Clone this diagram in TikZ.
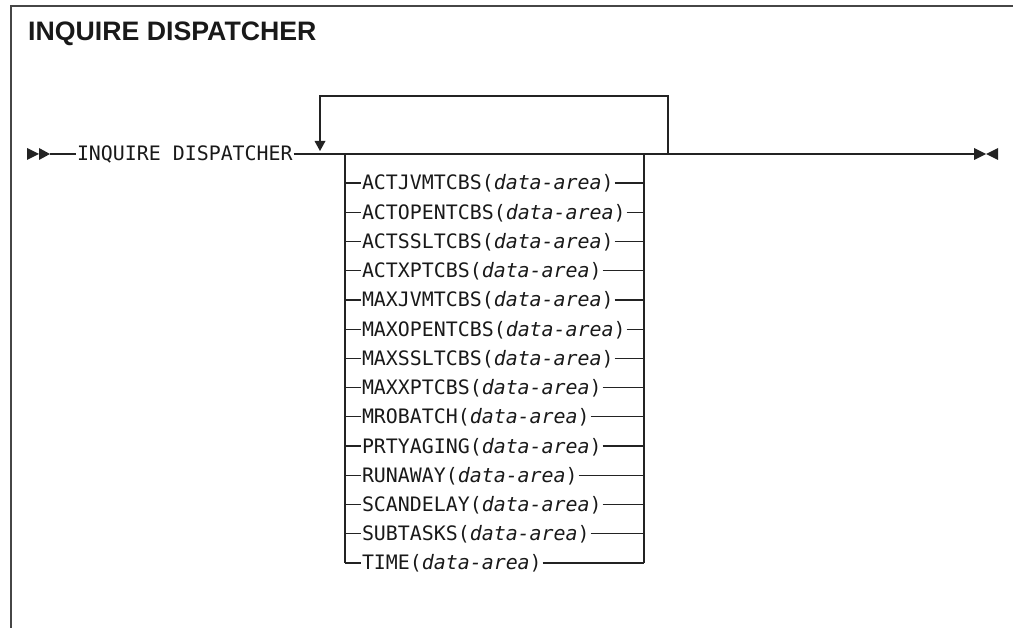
\documentclass[tikz,border=0pt]{standalone}
\usepackage{fontspec}
\setmainfont{Liberation Sans}
\newfontfamily\synmono{DejaVu Sans Mono}
\usetikzlibrary{calc,arrows.meta,positioning}
\definecolor{synline}{RGB}{35,35,35}
\definecolor{syntext}{RGB}{25,25,25}
\definecolor{synframe}{RGB}{70,70,70}

\begin{document}
\begin{tikzpicture}[x=1pt,y=-1pt,
    rail/.style={synline, line width=1.25pt},
    frame/.style={synframe, line width=1.8pt},
    kw/.style={font=\synmono\fontsize{19.9}{22}\selectfont, text=syntext,
      inner sep=1pt, outer sep=0pt, text height=15pt, text depth=1pt, anchor=west}]
    \useasboundingbox (0,0) rectangle (1013,628);
    \draw[frame] (11,628) -- (11,6) -- (1013,6);
    \node[anchor=base west, inner sep=0pt, text=syntext,
      font=\bfseries\fontsize{26.7}{30}\selectfont] (title) at (28,41) {INQUIRE DISPATCHER};

    % main rail
    \coordinate (start) at (50,154);
    \coordinate (stop) at (974,154);
    \node[kw] (inq) at (76,154) {INQUIRE DISPATCHER};
    \draw[rail] (start) -- (inq.west);
    \draw[rail] (inq.east) -- (stop);
    \fill[synline] (start) ++(-23,-6) -- ++(12,6) -- ++(-12,6) -- cycle;
    \fill[synline] (start) ++(-11,-6) -- ++(11,6) -- ++(-11,6) -- cycle;
    \fill[synline] (stop) ++(0,-6) -- ++(12,6) -- ++(-12,6) -- cycle;
    \fill[synline] (stop) ++(24,-6) -- ++(0,12) -- ++(-12,-6) -- cycle;
    \draw[synline, line width=2.2pt] (674,154) -- (697,154);

    % repeat loop
    \coordinate (loopR) at (668,154);
    \coordinate (loopTip) at (320,151);
    \draw[rail] (loopR) |- (320,96) -- ($(loopTip)+(0,-9)$);
    \fill[synline] (loopTip) -- ++(-5.5,-10) -- ++(11,0) -- cycle;

    % options
    \coordinate (bl) at (345,154);
    \coordinate (br) at (644,154);
    \foreach \opt [count=\i] in {ACTJVMTCBS, ACTOPENTCBS, ACTSSLTCBS, ACTXPTCBS,
        MAXJVMTCBS, MAXOPENTCBS, MAXSSLTCBS, MAXXPTCBS, MROBATCH, PRTYAGING,
        RUNAWAY, SCANDELAY, SUBTASKS, TIME} {
      \node[kw] (o\i) at (361,{183+29.23*(\i-1)}) {\opt(\textit{data-area})};
      \draw[rail] (o\i.west -| bl) -- (o\i.west);
      \draw[rail] (o\i.east) -- (o\i.east -| br);
    }
    \draw[rail] (bl) -- (o14.west -| bl);
    \draw[rail] (br) -- (o14.east -| br);
\end{tikzpicture}
\end{document}
